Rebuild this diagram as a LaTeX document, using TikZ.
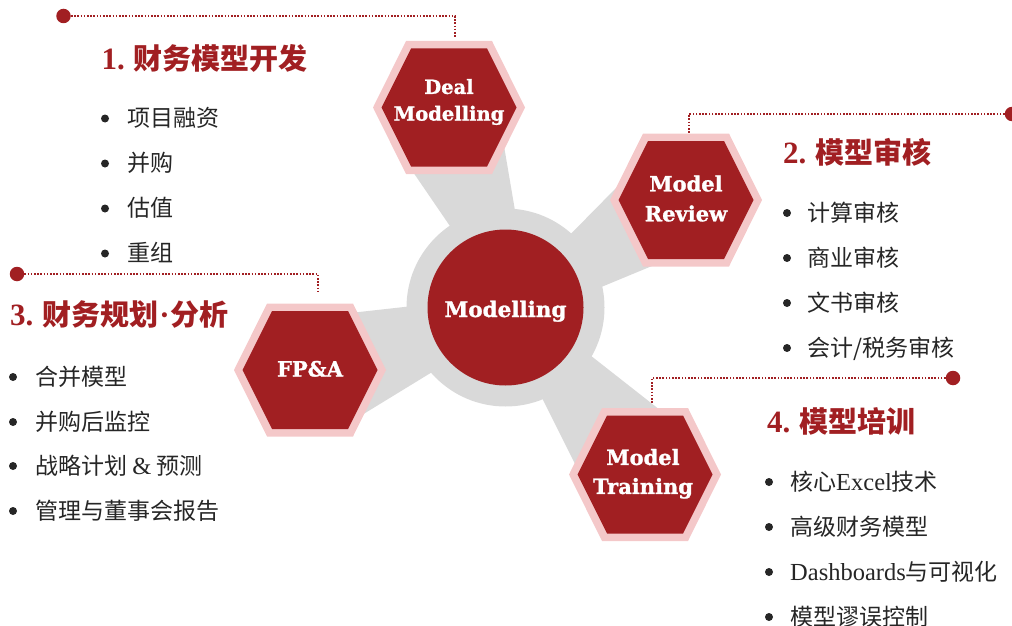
\documentclass[tikz,border=0pt]{standalone}
\usepackage{fontspec}
\setmainfont{Noto Sans CJK SC}
\newfontfamily\serifw{Liberation Serif}
\newfontfamily\labfont{DejaVu Serif Bold}[FakeBold=1.2]
\newcommand\latword[1]{{\serifw\fontsize{24.5}{27}\selectfont #1}}
\newcommand\headnum[1]{{\serifw\fontsize{31}{34}\selectfont #1}\hspace{9pt}}
\newcommand\middot{{\serifw\fontsize{31}{34}\selectfont\hspace{1pt}·\hspace{1pt}}}
\definecolor{mred}{RGB}{161,31,34}
\definecolor{mpink}{RGB}{244,200,201}
\definecolor{mgray}{RGB}{217,217,217}
\definecolor{mtext}{RGB}{38,38,38}
\tikzset{
  hexpic/.pic={
    \fill[mpink] (-76,0) -- (-43,-66.5) -- (43,-66.5) -- (76,0) -- (43,66.5) -- (-43,66.5) -- cycle;
    \fill[mred] (-67.5,0) -- (-38,-59) -- (38,-59) -- (67.5,0) -- (38,59) -- (-38,59) -- cycle;
  },
  spoke/.style={fill=mgray},
  hexlabel/.style={text=white, align=center, inner sep=0pt},
  heading/.style={anchor=base west, inner sep=0pt, text=mred, font=\fontsize{29}{34}\selectfont\bfseries},
  item/.style={anchor=base west, inner sep=0pt, text=mtext, font=\fontsize{23}{27}\selectfont},
  bulletdot/.style={circle, fill=mtext, inner sep=0pt, minimum size=8pt},
  enddot/.style={circle, fill=mred, inner sep=0pt, minimum size=14.5pt},
  leader/.style={draw=mred, line width=1.6pt, dash pattern=on 1.6pt off 1.6pt},
}
\begin{document}
\begin{tikzpicture}[x=1pt, y=-1pt]
\useasboundingbox (0,0) rectangle (1012,626);
% spokes
\fill[spoke] (480,270) -- (413,172) -- (449,107) -- (503,140) -- (520,240) -- cycle;
\fill[spoke] (552,253) -- (619,185) -- (686,200) -- (652,266) -- (582,295) -- cycle;
\fill[spoke] (440,303) -- (350,313) -- (310,370) -- (357,418) -- (460,355) -- cycle;
\fill[spoke] (528,370) -- (578,470) -- (645,474.5) -- (660,410) -- (567,337) -- cycle;
% hub
\fill[mgray] (505.5,307.5) circle[radius=99];
\fill[mred] (505.5,307.5) circle[radius=78];
\node[hexlabel, anchor=base, font=\labfont\fontsize{21.5}{26}\selectfont] (hub) at (505.5,317) {Modelling};
% hexagons
\pic at (449,107.5) {hexpic};
\pic at (686,200) {hexpic};
\pic at (310,370) {hexpic};
\pic at (645,474.5) {hexpic};
\node[hexlabel, font=\labfont\fontsize{19.5}{26.7}\selectfont] (deal) at (449,102) {Deal\\Modelling};
\node[hexlabel, font=\labfont\fontsize{21}{30}\selectfont] (review) at (686,198.5) {Model\\Review};
\node[hexlabel, anchor=base, font=\labfont\fontsize{21}{26}\selectfont] (fpa) at (310,376.5) {FP\&A};
\node[hexlabel, font=\labfont\fontsize{21}{29}\selectfont] (training) at (643,473.8) {Model\\Training};
% leaders
\node[enddot] (d1) at (63.5,16) {};
\coordinate (t1) at (455,38);
\draw[leader] (d1) -| (t1);
\node[enddot] (d2) at (1012,114) {};
\coordinate (t2) at (689,133);
\draw[leader] (d2) -| (t2);
\node[enddot] (d3) at (17,274) {};
\coordinate (t3) at (318,293);
\draw[leader] (d3) -| (t3);
\node[enddot] (d4) at (953,378) {};
\coordinate (t4) at (652,404);
\draw[leader] (d4) -| (t4);
% headings
\node[heading] (h1) at (101.5,69.5) {\headnum{1.}财务模型开发};
\node[heading] (h2) at (783,163) {\headnum{2.}模型审核};
\node[heading] (h3) at (10,325) {\headnum{3.}财务规划\middot 分析};
\node[heading] (h4) at (767,432) {\headnum{4.}模型培训};
% list 1
\node[bulletdot] (b11) at (105,118.5) {};
\node[bulletdot] (b12) at (105,163.5) {};
\node[bulletdot] (b13) at (105,208.5) {};
\node[bulletdot] (b14) at (105,253.5) {};
\node[item] (i11) at (127,126.5) {项目融资};
\node[item] (i12) at (127,171.5) {并购};
\node[item] (i13) at (127,216.5) {估值};
\node[item] (i14) at (127,261.5) {重组};
% list 2
\node[bulletdot] (b21) at (787,213) {};
\node[bulletdot] (b22) at (787,258) {};
\node[bulletdot] (b23) at (787,303) {};
\node[bulletdot] (b24) at (787,348) {};
\node[item] (i21) at (807,221) {计算审核};
\node[item] (i22) at (807,266) {商业审核};
\node[item] (i23) at (807,311) {文书审核};
\node[item] (i24) at (807,356) {会计/税务审核};
% list 3
\node[bulletdot] (b31) at (13,377) {};
\node[bulletdot] (b32) at (13,422) {};
\node[bulletdot] (b33) at (13,466) {};
\node[bulletdot] (b34) at (13,511) {};
\node[item] (i31) at (35,385) {合并模型};
\node[item] (i32) at (35,430) {并购后监控};
\node[item] (i33) at (35,474) {战略计划 \latword{\&} 预测};
\node[item] (i34) at (35,519) {管理与董事会报告};
% list 4
\node[bulletdot] (b41) at (769,482) {};
\node[bulletdot] (b42) at (769,527) {};
\node[bulletdot] (b43) at (769,572) {};
\node[bulletdot] (b44) at (769,617) {};
\node[item] (i41) at (790,490) {核心\latword{Excel}技术};
\node[item] (i42) at (790,535) {高级财务模型};
\node[item] (i43) at (790,580) {\latword{Dashboards}与可视化};
\node[item] (i44) at (790,625) {模型谬误控制};
\end{tikzpicture}
\end{document}
